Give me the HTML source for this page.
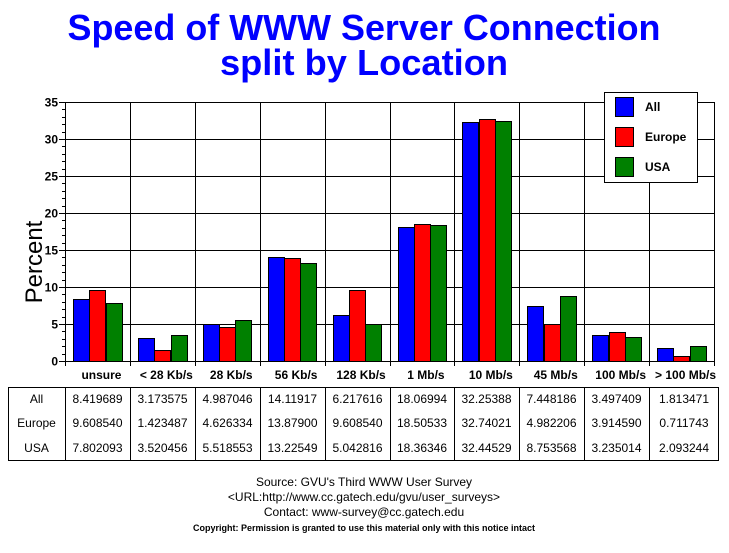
<!DOCTYPE html>
<html><head><style>body{margin:0;background:#fff}svg{display:block}</style></head><body>
<svg width="729" height="553" viewBox="0 0 729 553" xmlns="http://www.w3.org/2000/svg" font-family="Liberation Sans, Arial, sans-serif">
<rect width="729" height="553" fill="#fff"/>
<text x="364" y="40" text-anchor="middle" font-size="36" font-weight="bold" fill="#0000ff" textLength="593" lengthAdjust="spacingAndGlyphs">Speed of WWW Server Connection</text>
<text x="364" y="75" text-anchor="middle" font-size="36" font-weight="bold" fill="#0000ff" textLength="288" lengthAdjust="spacingAndGlyphs">split by Location</text>
<text transform="translate(42,262) rotate(-90)" text-anchor="middle" font-size="24" fill="#000">Percent</text>
<g id="plot" stroke="#000" stroke-width="1"></g>
<g id="bars" stroke="#000" stroke-width="1"></g>
<g id="lbl" font-size="12" font-weight="bold" fill="#000"></g>
<rect x="604.5" y="92.5" width="93" height="90" fill="#fff" stroke="#000"/>
<rect x="615.5" y="97.5" width="18" height="19" fill="#0000ff" stroke="#000"/>
<rect x="615.5" y="127.5" width="18" height="19" fill="#ff0000" stroke="#000"/>
<rect x="615.5" y="157.5" width="18" height="19" fill="#008000" stroke="#000"/>
<text x="645" y="111" font-size="12" font-weight="bold">All</text>
<text x="645" y="141" font-size="12" font-weight="bold">Europe</text>
<text x="645" y="171" font-size="12" font-weight="bold">USA</text>
<g id="tbl" font-size="12" fill="#000"></g>
<g font-size="12" text-anchor="middle" fill="#000">
<text x="364" y="486">Source: GVU's Third WWW User Survey</text>
<text x="364" y="501">&lt;URL:http://www.cc.gatech.edu/gvu/user_surveys&gt;</text>
<text x="364" y="516">Contact: www-survey@cc.gatech.edu</text>
<text x="364" y="531" font-size="9" font-weight="bold">Copyright: Permission is granted to use this material only with this notice intact</text>
</g>
<script>
const NS="http://www.w3.org/2000/svg";
function el(p,t,a,txt){const e=document.createElementNS(NS,t);for(const k in a)e.setAttribute(k,a[k]);if(txt!==undefined)e.textContent=txt;document.getElementById(p).appendChild(e);}
const L=65,R=714,T=102,B=361,W=(R-L)/10,S=(B-T)/35;
for(let v=0;v<=35;v+=5){const y=Math.round(B-v*S)+.5;el('plot','line',{x1:L-6,x2:R,y1:y,y2:y});el('lbl','text',{x:L-7,y:y+4,'text-anchor':'end'},v);}
for(let v=0;v<=35;v++){const y=Math.round(B-v*S)+.5;el('plot','line',{x1:L-3,x2:L,y1:y,y2:y});}
for(let i=0;i<=10;i++){const x=Math.round(L+i*W)+.5;el('plot','line',{x1:x,x2:x,y1:T,y2:B+5});}
const cats=["unsure","< 28 Kb/s","28 Kb/s","56 Kb/s","128 Kb/s","1 Mb/s","10 Mb/s","45 Mb/s","100 Mb/s","> 100 Mb/s"];
const d=[[8.419689,3.173575,4.987046,14.11917,6.217616,18.06994,32.25388,7.448186,3.497409,1.813471],
[9.608540,1.423487,4.626334,13.87900,9.608540,18.50533,32.74021,4.982206,3.914590,0.711743],
[7.802093,3.520456,5.518553,13.22549,5.042816,18.36346,32.44529,8.753568,3.235014,2.093244]];
const col=["#0000ff","#ff0000","#008000"],nm=["All","Europe","USA"];
for(let i=0;i<10;i++){const x0=L+i*W;
 for(let s=0;s<3;s++){const h=d[s][i]*S;el('bars','rect',{x:Math.round(x0+8+s*16.3)+.5,y:Math.round(B-h)+.5,width:16,height:Math.round(h),fill:col[s]});}
 el('lbl','text',{x:x0+W/2+4,y:379,'text-anchor':'middle'},cats[i]);}
const tx=[8,65];for(let i=1;i<=10;i++)tx.push(Math.round(L+i*W));tx[11]=719;
const ty=[387,411,436,460];
el('tbl','rect',{x:8.5,y:387.5,width:710,height:73,fill:'none',stroke:'#000'});
for(let i=1;i<11;i++)el('tbl','line',{x1:tx[i]+.5,x2:tx[i]+.5,y1:387,y2:460,stroke:'#000'});
for(let r=0;r<3;r++){const y=ty[r]+16;el('tbl','text',{x:(8+65)/2,y:y,'text-anchor':'middle'},nm[r]);
 for(let i=0;i<10;i++)el('tbl','text',{x:(tx[i+1]+tx[i+2])/2,y:y,'text-anchor':'middle'},d[r][i].toFixed(d[r][i]>=10?5:6));}
</script>
</svg>
</body></html>
